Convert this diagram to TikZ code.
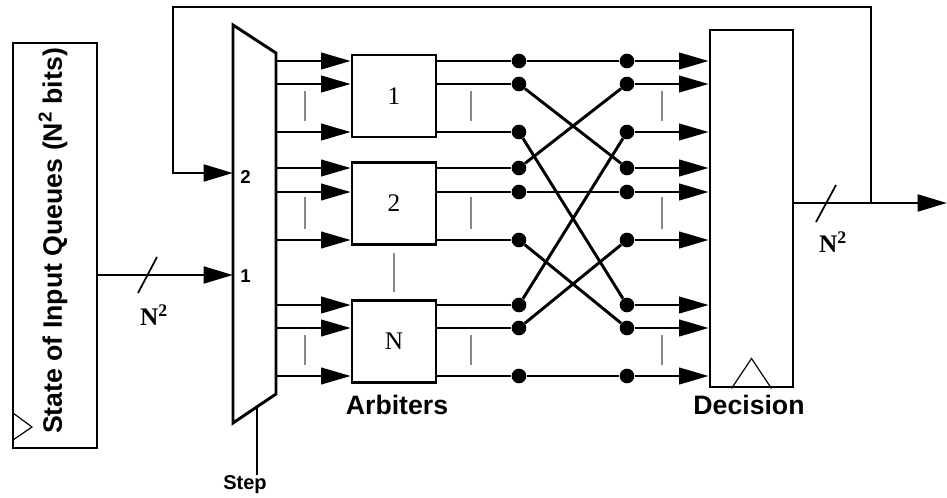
\documentclass[tikz,border=0pt]{standalone}
\usepackage{fontspec}
\setmainfont{Liberation Serif}
\setsansfont{Liberation Sans}
\usetikzlibrary{arrows.meta}

\tikzset{
  wire/.style={line width=2.2pt},
  thinwire/.style={line width=1.3pt},
  bigarrow/.style={-{Triangle[length=22pt,width=12.5pt]}},
  dot/.style={circle,fill=black,inner sep=0pt,minimum size=11pt},
  arbiter/.style={draw,line width=2.2pt,minimum width=63pt,minimum height=61.5pt,inner sep=0pt,font=\fontsize{19}{21}\selectfont},
  skipbar/.style={draw={rgb,255:red,136;green,136;blue,136},line width=1.3pt},
  lbl/.style={inner sep=0.75pt,font=\sffamily\bfseries\fontsize{20}{23}\selectfont},
  widthlbl/.style={inner sep=0.75pt,font=\bfseries\fontsize{19}{21}\selectfont},
}

\begin{document}
\begin{tikzpicture}[x=0.75pt,y=0.75pt,yscale=-1,xscale=1]
\useasboundingbox (0,0) rectangle (947,497);

%Shape: State register
\node [draw,line width=2.2pt,minimum width=63pt,minimum height=303.75pt,inner sep=0pt] (state) at (55,245.5) {};
\draw [line width=0.9pt] (13,413) -- (32,427) -- (13,440) ;
% Text Node
\node [lbl,rotate=90] (statetxt) at (53,241) {State of Input Queues (N\textsuperscript{2} bits)};

%Shape: Mux
\draw [wire,line join=miter] (233,25) -- (276,53) -- (276,394) -- (233,423) -- cycle ;
\coordinate (muxin1) at (233,275);
\coordinate (muxin2) at (233,173);
\coordinate (muxsel) at (257,407);
% Text Node
\node [anchor=west,inner sep=0.75pt,font=\sffamily\bfseries\fontsize{14}{16}\selectfont] (muxlbl2) at (239,177) {2};
\node [anchor=west,inner sep=0.75pt,font=\sffamily\bfseries\fontsize{14}{16}\selectfont] (muxlbl1) at (239,276) {1};
% Text Node
\node [lbl,font=\sffamily\bfseries\fontsize{15}{17}\selectfont] (step) at (245,485) {Step};
\draw [wire] (muxsel) -- (muxsel |- step.north) ;

%Arbiters
\node [arbiter] (arb1) at (394,96) {1};
\node [arbiter] (arb2) at (394,203.5) {2};
\node [arbiter] (arbN) at (394,341.5) {N};
% Text Node
\node [lbl] (arbtxt) at (397,405) {Arbiters};

%Shape: Decision register
\node [draw,line width=2.2pt,minimum width=62.25pt,minimum height=267.75pt,inner sep=0pt] (dec) at (751.5,208.5) {};
\draw [line width=0.9pt] ([xshift=-15pt]dec.south) -- ([yshift=-22.5pt]dec.south) -- ([xshift=15pt]dec.south) ;
% Text Node
\node [lbl] (dectxt) at (749,405) {Decision};

% rows, dots and wires
\foreach \i/\y/\k in {1/61/1,2/84/1,3/132/1,4/168/2,5/192/2,6/240/2,7/305/N,8/328/N,9/376/N} {
  \coordinate (m\i) at (276,\y);
  \node [dot] (l\i) at (519,\y) {};
  \node [dot] (r\i) at (627,\y) {};
  \draw [thinwire,bigarrow] (m\i) -- (arb\k.west |- m\i);
  \draw [wire] (arb\k.east |- l\i) -- (l\i);
  \draw [thinwire,bigarrow] (r\i) -- (dec.west |- r\i);
}
\foreach \a/\b in {1/1,2/4,3/7,4/2,5/5,6/8,7/3,8/6,9/9}
  \draw [wire] (l\a) -- (r\b);

% skipped rows
\foreach \x in {305,471,662}
  \foreach \ya/\yb in {91/121,197/229,335/365}
    \draw [skipbar] (\x,\ya) -- (\x,\yb);
\draw [skipbar] ([yshift=5pt]arb2.south) -- ([yshift=-5pt]arbN.north);

% State input
\draw [wire,bigarrow] (state.east |- muxin1) -- (muxin1);
\draw [thinwire] (138,293) -- (157,257);
\node [widthlbl] (nin) at (154,315) {N\textsuperscript{2}};

% Output and feedback
\coordinate (tap) at (871,203);
\coordinate (fbtop) at (173,7);
\coordinate (outend) at (947,203);
\draw [wire,bigarrow] (dec.east |- tap) -- (outend);
\draw [wire,bigarrow] (tap) |- (fbtop) |- (muxin2);
\draw [thinwire] (816,222) -- (836,185);
\node [widthlbl] (nout) at (833,242) {N\textsuperscript{2}};

\end{tikzpicture}
\end{document}
